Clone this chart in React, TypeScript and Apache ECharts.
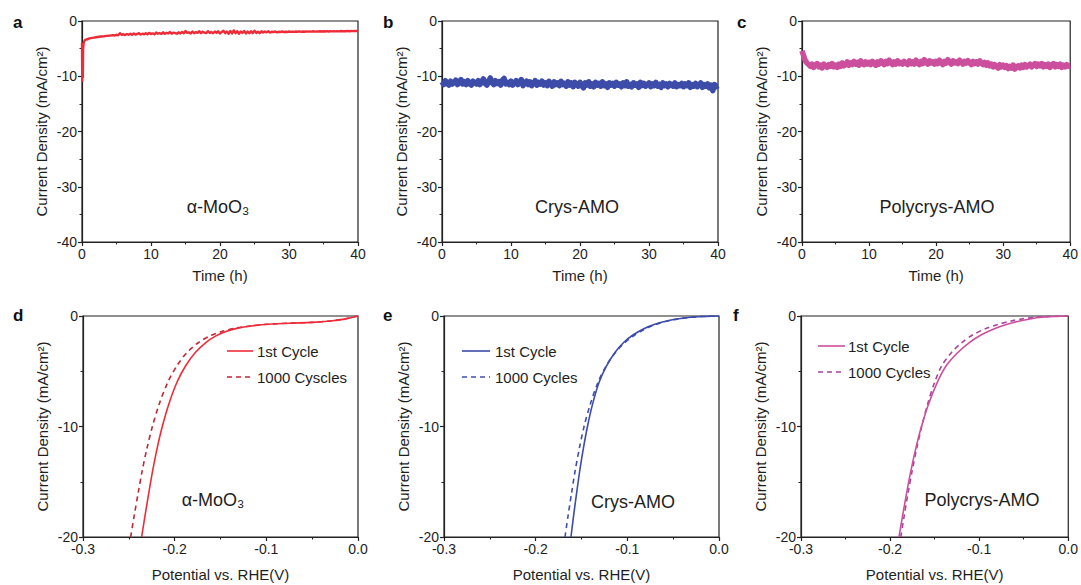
import React, { useEffect, useRef } from 'react';
import * as echarts from 'echarts';

const FONT = '"Liberation Sans", Arial, Helvetica, sans-serif';
const TXT = '#1e1e1e';
const AX = '#222222';

// ---------- Row 1: stability (current density vs. time) ----------
const timeTicks = [0, 10, 20, 30, 40];
const STEP_H = 0.25;

// α-MoO3 initial spike (time h, current mA/cm2)
const moO3StartTime = [0, 0.04, 0.08, 0.12, 0.16, 0.25, 0.4];
const moO3StartCur = [-4.0, -10.8, -8.0, -10.2, -5.0, -3.9, -3.5];
// α-MoO3 from 0.5 h to 40 h every 0.25 h
const moO3Cur = [
  -3.4, -3.3, -3.2, -3.1, -3.05, -3.0, -2.95, -2.9, -2.85, -2.8, -2.78, -2.75, -2.7, -2.68, -2.65, -2.6,
  -2.55, -2.62, -2.5, -2.58, -2.2, -2.5, -2.4, -2.55, -2.35, -2.48, -2.3, -2.5, -2.25, -2.45, -2.35, -2.2, -2.45, -2.3, -2.4, -2.2,
  -2.4, -2.15, -2.35, -2.25, -2.4, -2.1, -2.3, -2.2, -2.35, -2.05, -2.3, -2.15, -2.25, -2.0, -2.3, -2.1, -2.2, -2.3, -2.05, -2.25,
  -2.0, -2.2, -1.8, -2.15, -2.05, -2.25, -1.9, -2.2, -2.0, -2.15, -1.85, -2.2, -1.95, -2.1, -2.2, -1.85, -2.15, -2.0, -2.2, -1.9,
  -2.15, -1.85, -2.25, -2.0, -1.75, -2.2, -1.9, -2.3, -1.8, -2.25, -1.7, -2.2, -1.85, -2.3, -1.9, -2.15, -1.8, -2.25, -1.9, -2.2,
  -1.85, -2.2, -1.75, -2.15, -1.95, -2.2, -1.85, -2.1, -1.9, -2.05, -1.85, -2.1, -1.95, -2.0, -1.9, -2.05, -1.95, -2.0, -1.9, -2.0,
  -1.95, -2.0, -1.9, -1.98, -1.92, -1.97, -1.9, -1.95, -1.88, -1.96, -1.9, -1.94, -1.87, -1.93, -1.9, -1.92, -1.86, -1.92, -1.88, -1.9,
  -1.86, -1.91, -1.85, -1.9, -1.84, -1.89, -1.86, -1.88, -1.83, -1.88, -1.85, -1.87, -1.82, -1.86, -1.84, -1.86, -1.8, -1.85, -1.82, -1.84,
  -1.8, -1.82, -1.78,
];
// Crys-AMO from 0 h to 40 h every 0.25 h
const crysCur = [
  -11.0, -11.5, -10.8, -11.3, -11.6, -10.9, -11.4, -11.1, -10.7, -11.5, -11.2, -10.6, -11.4, -11.0, -11.5, -10.8, -11.3, -11.6, -10.9, -11.2,
  -11.4, -10.8, -11.5, -11.0, -10.5, -11.3, -11.6, -10.9, -10.3, -11.2, -11.5, -10.8, -11.3, -11.0, -11.6, -10.7, -10.4, -11.4, -11.1, -11.5,
  -10.9, -11.6, -11.2, -10.8, -11.5, -11.1, -10.6, -11.7, -11.2, -10.9, -11.5, -11.0, -11.7, -11.3, -10.8, -11.6, -11.1, -11.4, -10.9, -11.6,
  -11.2, -11.7, -10.9, -11.4, -11.8, -11.0, -11.5, -11.2, -11.7, -10.9, -11.5, -11.3, -11.8, -11.0, -11.6, -11.2, -11.9, -11.1, -11.5, -11.8,
  -11.1, -11.7, -12.1, -11.2, -11.6, -11.0, -11.8, -11.4, -11.9, -11.1, -11.6, -11.3, -11.8, -11.0, -11.7, -11.4, -12.0, -11.2, -11.6, -11.3,
  -11.8, -11.1, -11.6, -11.4, -11.9, -11.2, -11.7, -11.0, -11.8, -11.5, -11.9, -11.2, -11.6, -11.4, -12.0, -11.1, -11.7, -11.3, -11.8, -11.5,
  -11.2, -11.9, -11.4, -11.7, -11.1, -11.8, -11.5, -12.0, -11.2, -11.7, -11.4, -11.9, -11.3, -11.6, -11.8, -11.2, -11.9, -11.5, -11.7, -11.3,
  -11.9, -11.4, -11.7, -11.2, -12.0, -11.5, -11.8, -11.3, -11.9, -11.6, -11.2, -12.0, -11.5, -11.8, -11.4, -12.1, -11.6, -12.6, -11.5, -11.9,
  -11.7,
];
// Polycrys-AMO from 0 h to 40 h every 0.25 h
const polyCur = [
  -5.4, -6.3, -7.2, -7.6, -7.9, -8.2, -7.8, -8.4, -8.0, -7.7, -8.3, -8.0, -8.5, -7.8, -8.1, -8.4, -7.9, -8.2, -7.7, -8.3,
  -8.0, -8.4, -7.8, -8.2, -7.6, -8.1, -7.9, -7.4, -8.0, -7.6, -7.9, -7.3, -7.8, -7.5, -8.0, -7.2, -7.7, -7.9, -7.4, -7.8,
  -7.5, -7.9, -7.3, -7.7, -8.0, -7.4, -7.8, -7.2, -7.6, -7.9, -7.3, -7.7, -7.1, -7.6, -7.9, -7.4, -7.8, -7.2, -7.7, -7.5,
  -7.8, -7.3, -7.6, -7.9, -7.2, -7.7, -7.4, -7.8, -7.1, -7.6, -7.9, -7.3, -7.7, -7.0, -7.5, -7.8, -7.2, -7.6, -7.4, -7.8,
  -7.3, -7.7, -7.1, -7.6, -7.9, -7.3, -7.6, -7.0, -7.5, -7.8, -7.2, -7.6, -7.4, -7.7, -7.1, -7.5, -7.8, -7.3, -7.6, -7.2,
  -7.6, -7.9, -7.3, -7.7, -7.4, -7.8, -7.2, -7.6, -7.9, -7.5, -8.0, -7.6, -8.1, -7.8, -8.3, -7.9, -8.2, -8.5, -7.9, -8.3,
  -8.0, -8.4, -8.1, -8.6, -8.2, -8.5, -8.0, -8.7, -8.3, -8.1, -8.5, -8.0, -8.4, -7.9, -8.3, -8.1, -7.8, -8.3, -8.0, -7.7,
  -8.2, -7.8, -8.1, -7.7, -8.3, -7.9, -8.2, -7.8, -8.4, -8.0, -7.7, -8.3, -7.9, -8.2, -7.8, -8.4, -8.0, -8.3, -7.9, -8.2,
  -8.1,
];

// ---------- Row 2: polarization curves (potential V vs RHE, current mA/cm2) ----------
const potTicks = [-0.3, -0.2, -0.1, 0.0];

const moO3FirstPot = [-0.236, -0.2322, -0.2282, -0.224, -0.2192, -0.2135, -0.2065, -0.1975, -0.188, -0.1775, -0.166, -0.155, -0.144, -0.131, -0.116, -0.098, -0.075, -0.05, -0.03, -0.015, 0];
const moO3FirstCur = [-20, -18, -16, -14, -12, -10, -8, -6, -4.5, -3.3, -2.4, -1.8, -1.4, -1.1, -0.9, -0.75, -0.65, -0.58, -0.45, -0.28, 0];
const moO3ThousPot = [-0.248, -0.244, -0.2398, -0.2354, -0.2303, -0.2243, -0.217, -0.2075, -0.1975, -0.1865, -0.174, -0.1615, -0.1485, -0.134, -0.1175, -0.0985, -0.075, -0.05, -0.03, -0.015, 0];
const moO3ThousCur = [-20, -18, -16, -14, -12, -10, -8, -6, -4.5, -3.3, -2.4, -1.8, -1.4, -1.1, -0.9, -0.75, -0.65, -0.58, -0.45, -0.28, 0];

const crysFirstPot = [-0.1615, -0.1585, -0.1553, -0.1519, -0.148, -0.1435, -0.138, -0.1308, -0.1225, -0.1135, -0.104, -0.0935, -0.082, -0.07, -0.057, -0.044, -0.031, -0.019, -0.008, 0];
const crysFirstCur = [-20, -18, -16, -14, -12, -10, -8, -6, -4.5, -3.3, -2.4, -1.7, -1.15, -0.75, -0.45, -0.25, -0.12, -0.05, -0.01, 0];
const crysThousPot = [-0.168, -0.1645, -0.1608, -0.1569, -0.1524, -0.1472, -0.1405, -0.132, -0.123, -0.113, -0.1025, -0.0915, -0.08, -0.0685, -0.056, -0.0435, -0.0308, -0.019, -0.008, 0];
const crysThousCur = [-20, -18, -16, -14, -12, -10, -8, -6, -4.5, -3.3, -2.4, -1.7, -1.15, -0.75, -0.45, -0.25, -0.12, -0.05, -0.01, 0];

const polyFirstPot = [-0.19, -0.1858, -0.1814, -0.1766, -0.1712, -0.1648, -0.157, -0.147, -0.137, -0.124, -0.111, -0.0975, -0.083, -0.0685, -0.0545, -0.0415, -0.03, -0.017, -0.007, 0];
const polyFirstCur = [-20, -18, -16, -14, -12, -10, -8, -6, -4.5, -3.3, -2.4, -1.7, -1.15, -0.75, -0.45, -0.25, -0.12, -0.04, -0.01, 0];
const polyThousPot = [-0.188, -0.184, -0.1798, -0.1752, -0.1702, -0.1645, -0.158, -0.15, -0.142, -0.131, -0.1195, -0.107, -0.093, -0.0785, -0.064, -0.0505, -0.0375, -0.023, -0.009, 0];
const polyThousCur = [-20, -18, -16, -14, -12, -10, -8, -6, -4.5, -3.3, -2.4, -1.7, -1.15, -0.75, -0.45, -0.25, -0.12, -0.04, -0.01, 0];

const sampleNames = ['α-MoO₃', 'Crys-AMO', 'Polycrys-AMO'];
const legendNames = [
  ['1st Cycle', '1000 Cyscles'],
  ['1st Cycle', '1000 Cycles'],
  ['1st Cycle', '1000 Cycles'],
];
const panelLetters = ['a', 'b', 'c', 'd', 'e', 'f'];

const RED = '#ef2b37';
const RED_D = '#c42636';
const BLUE = '#3c4ca8';
const BLUE_D = '#3f4fb4';
const MAG = '#cb4f9c';
const MAG_D = '#a8429c';

const zip = (xs: number[], ys: number[]) => xs.map((x, i) => [x, ys[i]]);
const onGrid = (ys: number[], start: number) => ys.map((y, i) => [start + i * STEP_H, y]);

// layout
const grids = [
  { left: 82, top: 21, width: 276, height: 221 },
  { left: 442, top: 21, width: 276, height: 221 },
  { left: 802, top: 21, width: 276, height: 221 },
  { left: 83, top: 316, width: 275, height: 221 },
  { left: 444, top: 316, width: 275, height: 221 },
  { left: 801, top: 316, width: 276, height: 221 },
];

const axisCommon = {
  type: 'value' as const,
  axisLine: { show: true, onZero: false, lineStyle: { color: AX, width: 1.2 } },
  axisTick: { show: true, inside: false, length: 4, lineStyle: { color: AX, width: 1.2 } },
  minorTick: { show: true, splitNumber: 2, length: 2.5, lineStyle: { color: AX, width: 1 } },
  splitLine: { show: false },
  minorSplitLine: { show: false },
  nameLocation: 'middle' as const,
  nameTextStyle: { fontSize: 15, color: TXT, fontFamily: FONT },
};

function makeOption() {
  const xAxis: any[] = [];
  const yAxis: any[] = [];
  for (let i = 0; i < 6; i++) {
    const top = i < 3;
    xAxis.push({
      ...axisCommon,
      gridIndex: i,
      min: top ? timeTicks[0] : potTicks[0],
      max: top ? timeTicks[timeTicks.length - 1] : potTicks[potTicks.length - 1],
      interval: top ? 10 : 0.1,
      name: top ? 'Time (h)' : 'Potential vs. RHE(V)',
      nameGap: top ? 26 : 30,
      axisLabel: {
        margin: 5,
        fontSize: 14,
        color: TXT,
        fontFamily: FONT,
        showMaxLabel: true,
        formatter: top ? (v: number) => String(v) : (v: number) => (Math.abs(v) < 1e-9 ? '0.0' : v.toFixed(1)),
      },
    });
    yAxis.push({
      ...axisCommon,
      gridIndex: i,
      min: top ? -40 : -20,
      max: 0,
      interval: 10,
      name: 'Current Density (mA/cm²)',
      nameGap: 33,
      nameRotate: 90,
      axisLabel: { margin: 5, fontSize: 14, color: TXT, fontFamily: FONT },
    });
  }

  const line = (i: number, data: number[][], color: string, width: number, dashed = false, smooth = false) => ({
    type: 'line',
    xAxisIndex: i,
    yAxisIndex: i,
    data,
    symbol: 'none',
    smooth: smooth ? 0.3 : false,
    lineStyle: { color, width, type: dashed ? [5, 4] : 'solid', cap: 'butt', join: 'round' },
    silent: true,
  });

  const series = [
    line(0, [...zip(moO3StartTime, moO3StartCur), ...onGrid(moO3Cur, 0.5)], RED, 2.4),
    line(1, onGrid(crysCur, 0), BLUE, 5.5),
    line(2, onGrid(polyCur, 0), MAG, 5.5),
    line(3, zip(moO3ThousPot, moO3ThousCur), RED_D, 1.6, true, true),
    line(3, zip(moO3FirstPot, moO3FirstCur), RED, 1.6, false, true),
    line(4, zip(crysThousPot, crysThousCur), BLUE_D, 1.6, true, true),
    line(4, zip(crysFirstPot, crysFirstCur), BLUE, 1.6, false, true),
    line(5, zip(polyThousPot, polyThousCur), MAG_D, 1.6, true, true),
    line(5, zip(polyFirstPot, polyFirstCur), MAG, 1.6, false, true),
  ];

  const graphic: any[] = [];
  const letterPos = [
    [13, 22], [383, 22], [737, 22],
    [13, 315], [383, 315], [733, 315],
  ];
  panelLetters.forEach((t, i) => {
    graphic.push({
      type: 'text', x: letterPos[i][0], y: letterPos[i][1],
      style: { text: t, fontSize: 17, fontWeight: 'bold', fill: '#111', fontFamily: FONT, textVerticalAlign: 'middle' },
    });
  });
  const samplePos = [
    [218, 207], [577, 207], [937, 207],
    [213, 500], [633, 502], [982, 500],
  ];
  samplePos.forEach((p, i) => {
    graphic.push({
      type: 'text', x: p[0], y: p[1],
      style: { text: sampleNames[i % 3], fontSize: 18, fill: TXT, fontFamily: FONT, textAlign: 'center', textVerticalAlign: 'middle' },
    });
  });
  const legendPos = [
    { x1: 227, x2: 253, tx: 257, y: [351, 377], c: [RED, RED_D] },
    { x1: 462, x2: 490, tx: 495, y: [351, 377], c: [BLUE, BLUE_D] },
    { x1: 818, x2: 845, tx: 848, y: [346, 372], c: [MAG, MAG_D] },
  ];
  legendPos.forEach((l, k) => {
    for (let j = 0; j < 2; j++) {
      graphic.push({
        type: 'line',
        shape: { x1: l.x1, y1: l.y[j], x2: l.x2, y2: l.y[j] },
        style: { stroke: l.c[j], lineWidth: 1.6, lineDash: j === 1 ? [5, 4] : null },
      });
      graphic.push({
        type: 'text', x: l.tx, y: l.y[j],
        style: { text: legendNames[k][j], fontSize: 15, fill: TXT, fontFamily: FONT, textVerticalAlign: 'middle' },
      });
    }
  });

  return {
    animation: false,
    backgroundColor: '#ffffff',
    grid: grids.map((g) => ({ ...g, show: true, borderColor: AX, borderWidth: 1.2, backgroundColor: 'transparent', containLabel: false })),
    xAxis,
    yAxis,
    series,
    graphic,
  };
}

export default function App() {
  const ref = useRef<HTMLDivElement>(null);
  useEffect(() => {
    document.body.style.margin = '0';
    const chart = echarts.init(ref.current as HTMLDivElement, null, { renderer: 'svg' });
    chart.setOption(makeOption() as any);
    return () => chart.dispose();
  }, []);
  return <div ref={ref} style={{ width: 1081, height: 585 }} />;
}
